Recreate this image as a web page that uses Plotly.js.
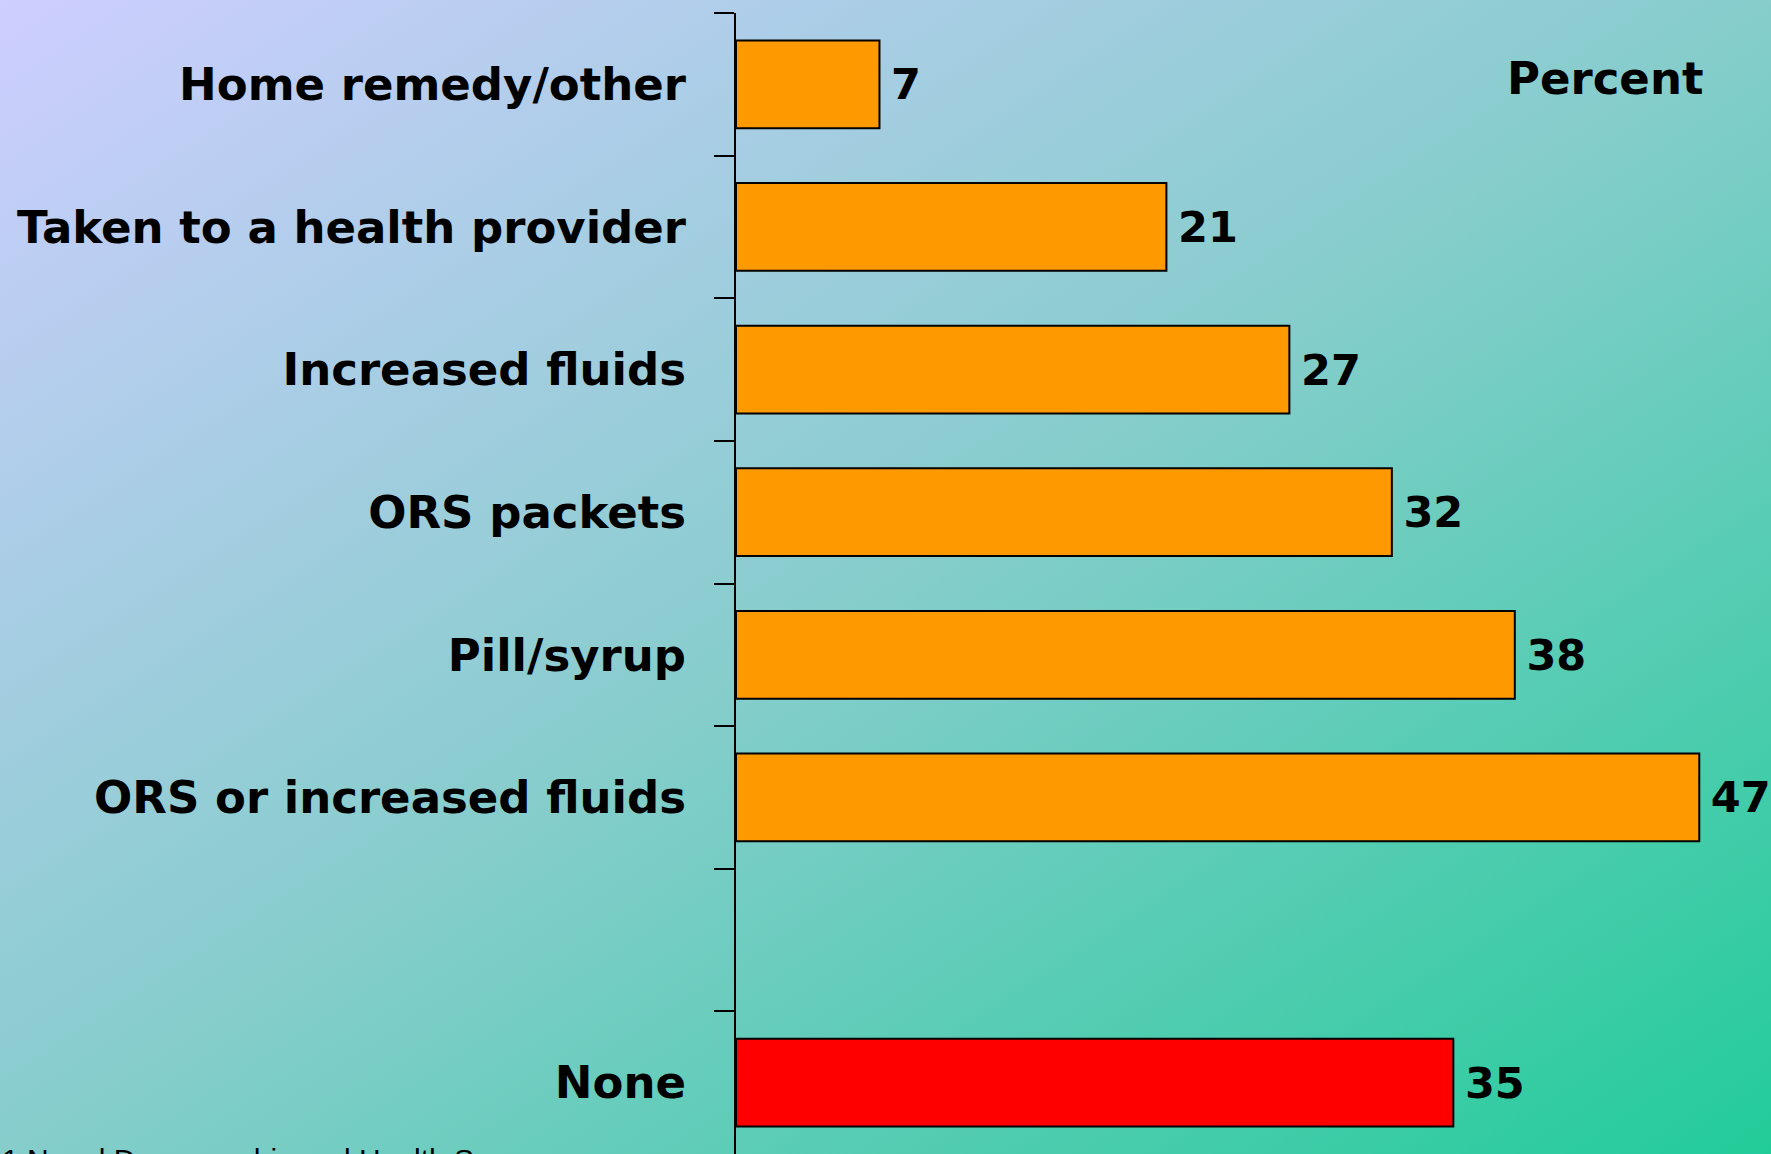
<!DOCTYPE html>
<html>
<head>
<meta charset="utf-8">
<script src="https://cdn.plot.ly/plotly-3.0.1.min.js"></script>
<style>
  html, body { margin: 0; padding: 0; }
  /* slide background: lavender top-left fading to green bottom-right */
  body { width: 1771px; height: 1154px; overflow: hidden;
         background: linear-gradient(to bottom right, #ceceff 0%, #86cdcc 50%, #22cc99 100%); }
  #chart { width: 1771px; height: 1154px; }
</style>
</head>
<body>
<div id="chart"></div>
<script>
// categories top to bottom, " " is the empty gap row before None
var categories = ['Home remedy/other', 'Taken to a health provider', 'Increased fluids',
                  'ORS packets', 'Pill/syrup', 'ORS or increased fluids', ' ', 'None'];
var percents = [7, 21, 27, 32, 38, 47, null, 35];
var barColors = ['#ff9900', '#ff9900', '#ff9900', '#ff9900', '#ff9900', '#ff9900', '#ff9900', '#ff0000'];
// thin space keeps the number a little off the bar end
var labelText = percents.map(function (v) { return v === null ? '' : '\u2009' + v; });

var labelFont = {family: '"Comic Sans MS", "DejaVu Sans", sans-serif', size: 45, color: '#000000', weight: 'bold'};
var valueFont = {family: '"Comic Sans MS", "DejaVu Sans", sans-serif', size: 43, color: '#000000', weight: 'bold'};

var bars = {
    type: 'bar',
    orientation: 'h',
    y: categories,
    x: percents,
    text: labelText,
    textposition: 'outside',
    textfont: valueFont,
    cliponaxis: false,
    marker: {color: barColors, line: {color: '#000000', width: 2}},
    hoverinfo: 'none'
};

var layout = {
    width: 1771,
    height: 1154,
    paper_bgcolor: 'rgba(0,0,0,0)',
    plot_bgcolor: 'rgba(0,0,0,0)',
    margin: {l: 0, r: 0, t: 13, b: 0},
    showlegend: false,
    bargap: 0.385,
    xaxis: {
        domain: [736 / 1771, 1],
        range: [0, 50.5],
        visible: false
    },
    yaxis: {
        type: 'category',
        categoryorder: 'array',
        categoryarray: categories,
        autorange: 'reversed',
        showline: true,
        linecolor: '#000000',
        linewidth: 2,
        ticks: 'outside',
        tickson: 'boundaries',
        ticklen: 20,
        tickwidth: 2,
        tickcolor: '#000000',
        ticklabelstandoff: 39,
        tickfont: labelFont,
        showgrid: false,
        zeroline: false
    },
    annotations: [
        {text: 'Percent', xref: 'paper', yref: 'paper', x: 0.906, y: 0.943,
         xanchor: 'center', yanchor: 'middle', showarrow: false, font: labelFont},
        {text: '2001 Nepal Demographic and Health Survey', xref: 'paper', yref: 'paper',
         x: -0.028, y: 0.0115, xanchor: 'left', yanchor: 'top', showarrow: false,
         font: {family: 'Liberation Sans, Arial, sans-serif', size: 30, color: '#000000'}}
    ]
};

Plotly.newPlot('chart', [bars], layout, {displayModeBar: false, staticPlot: true});
</script>
</body>
</html>
